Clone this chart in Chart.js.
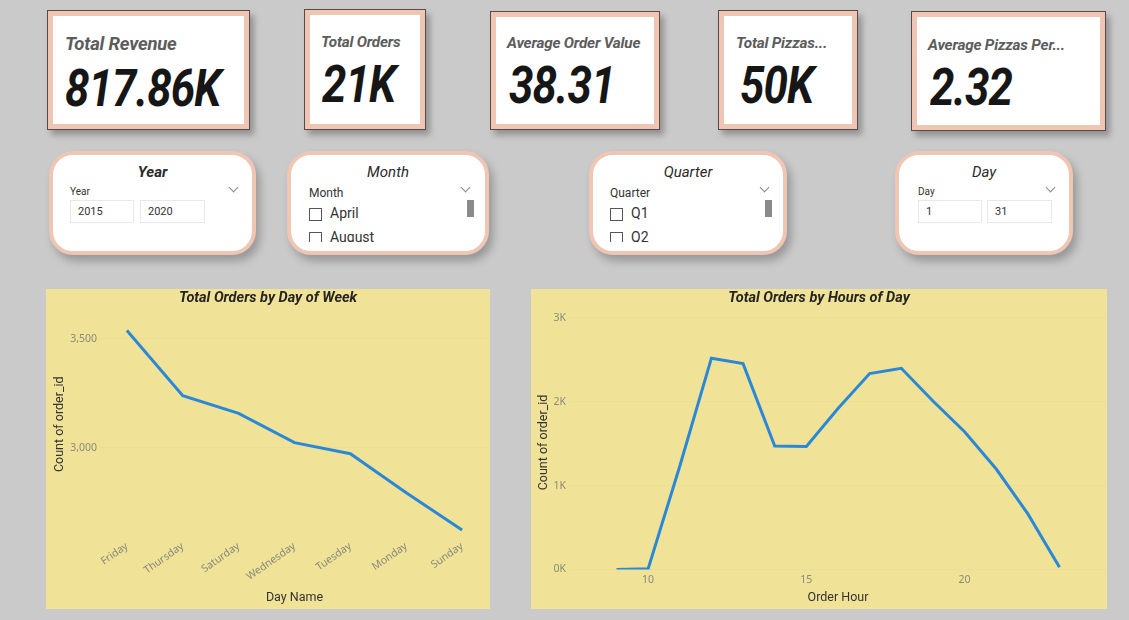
<!DOCTYPE html>
<html>
<head>
<meta charset="utf-8">
<script src="https://cdn.jsdelivr.net/npm/chart.js@4.4.1/dist/chart.umd.min.js"></script>
<style>
  html, body { margin:0; padding:0; }
  body { width:1129px; height:620px; background:#cacaca; position:relative; overflow:hidden; font-family:'Roboto','Noto Sans',sans-serif; }
  .card { position:absolute; box-sizing:border-box; background:#fff; border:1px solid #5b4a43; box-shadow: inset 0 0 0 5px #efc6b3, 4px 5px 6px rgba(0,0,0,0.28); }
  .card .t { position:absolute; font-style:italic; font-weight:700; color:#5c5c5c; white-space:nowrap; letter-spacing:-0.2px; }
  .card .v { position:absolute; font-style:italic; font-weight:700; color:#161616; font-size:51px; line-height:50px; white-space:nowrap; letter-spacing:-1px; transform:scaleX(0.86); transform-origin:left center; }
  .slicer { position:absolute; box-sizing:border-box; background:#fff; border:4px solid #efc6b3; border-radius:24px; box-shadow: 4px 6px 8px rgba(0,0,0,0.25); overflow:hidden; }
  .slicer .st { position:absolute; left:0; right:0; text-align:center; font-style:italic; color:#2a2a2a; font-size:15px; top:8px; }
  .slicer .lbl { position:absolute; color:#333; white-space:nowrap; }
  .chev { position:absolute; width:6px; height:6px; border-right:1px solid #888; border-bottom:1px solid #888; transform:rotate(45deg); }
  .inp { position:absolute; box-sizing:border-box; border:1px solid #e8e8e8; height:23px; font-size:11px; color:#333; padding-left:7px; line-height:21px; }
  .cb { position:absolute; box-sizing:border-box; width:13px; height:13px; border:1px solid #555; }
  .item { position:absolute; font-size:14px; color:#333; }
  .scroll { position:absolute; width:7px; height:17px; background:#8a8a8a; }
  .panel { position:absolute; background:#f0e398; }
</style>
</head>
<body>

<div class="card" style="left:47px;top:10px;width:203px;height:120px;">
  <div class="t" style="left:17px;top:22px;font-size:18.5px;">Total Revenue</div>
  <div class="v" style="left:17px;top:53px;">817.86K</div>
</div>
<div class="card" style="left:304px;top:9px;width:122px;height:121px;">
  <div class="t" style="left:16px;top:23px;font-size:15.3px;">Total Orders</div>
  <div class="v" style="left:17px;top:50px;">21K</div>
</div>
<div class="card" style="left:490px;top:11px;width:170px;height:119px;">
  <div class="t" style="left:16px;top:22px;font-size:15.3px;">Average Order Value</div>
  <div class="v" style="left:18px;top:49px;">38.31</div>
</div>
<div class="card" style="left:718px;top:10px;width:140px;height:120px;">
  <div class="t" style="left:17px;top:23px;font-size:15.3px;">Total Pizzas...</div>
  <div class="v" style="left:21px;top:50px;">50K</div>
</div>
<div class="card" style="left:911px;top:11px;width:195px;height:120px;">
  <div class="t" style="left:16px;top:24px;font-size:15.3px;">Average Pizzas Per...</div>
  <div class="v" style="left:18px;top:51px;">2.32</div>
</div>

<div class="slicer" style="left:49px;top:151px;width:207px;height:104px;">
  <div class="st" style="font-weight:700;left:0;right:0;">Year</div>
  <div class="lbl" style="left:17px;top:31px;font-size:10px;">Year</div>
  <div class="chev" style="left:177px;top:29px;"></div>
  <div class="inp" style="left:17px;top:45px;width:64px;">2015</div>
  <div class="inp" style="left:87px;top:45px;width:65px;">2020</div>
</div>
<div class="slicer" style="left:287px;top:151px;width:202px;height:104px;">
  <div class="st">Month</div>
  <div class="lbl" style="left:18px;top:31px;font-size:12px;">Month</div>
  <div class="chev" style="left:171px;top:29px;"></div>
  <div class="scroll" style="left:176px;top:45px;"></div>
  <div style="position:absolute;left:0;top:0;width:100%;height:87px;overflow:hidden;">
    <div class="cb" style="left:18px;top:53px;"></div><div class="item" style="left:39px;top:50px;">April</div>
    <div class="cb" style="left:18px;top:77px;"></div><div class="item" style="left:39px;top:74px;">August</div>
  </div>
</div>
<div class="slicer" style="left:589px;top:151px;width:198px;height:104px;">
  <div class="st">Quarter</div>
  <div class="lbl" style="left:17px;top:31px;font-size:12px;">Quarter</div>
  <div class="chev" style="left:168px;top:29px;"></div>
  <div class="scroll" style="left:172px;top:45px;"></div>
  <div style="position:absolute;left:0;top:0;width:100%;height:87px;overflow:hidden;">
    <div class="cb" style="left:17px;top:53px;"></div><div class="item" style="left:38px;top:50px;">Q1</div>
    <div class="cb" style="left:17px;top:77px;"></div><div class="item" style="left:38px;top:74px;">Q2</div>
  </div>
</div>
<div class="slicer" style="left:895px;top:151px;width:178px;height:104px;">
  <div class="st">Day</div>
  <div class="lbl" style="left:19px;top:31px;font-size:10px;">Day</div>
  <div class="chev" style="left:148px;top:29px;"></div>
  <div class="inp" style="left:19px;top:45px;width:64px;">1</div>
  <div class="inp" style="left:88px;top:45px;width:65px;">31</div>
</div>

<div class="panel" style="left:46px;top:289px;width:444px;height:320px;"><canvas id="c1" width="444" height="320"></canvas></div>
<div class="panel" style="left:531px;top:289px;width:576px;height:320px;"><canvas id="c2" width="576" height="320"></canvas></div>

<script>
// ---- data ----
const dayLabels = ['Friday','Thursday','Saturday','Wednesday','Tuesday','Monday','Sunday'];
const dayOrders = [3538, 3239, 3158, 3024, 2973, 2794, 2624];
const dayYTicks = [3000, 3500];

const orderHours = [9, 10, 11, 12, 13, 14, 15, 16, 17, 18, 19, 20, 21, 22, 23];
const hourOrders = [1, 8, 1231, 2520, 2455, 1472, 1468, 1920, 2336, 2399, 2009, 1642, 1198, 663, 28];
const hourXTicks = [10, 15, 20];
const hourYTicks = [0, 1000, 2000, 3000];

const lineColor = '#2b88d6';
const tickFont = { family: "'Noto Sans', sans-serif", size: 10.5 };
const axisTitleFont = { family: "'Roboto', sans-serif", size: 12.5 };
const titleFont = { family: "'Roboto', sans-serif", size: 14.5, weight: 'bold', style: 'italic' };

Chart.defaults.animation = false;
Chart.defaults.responsive = false;

new Chart(document.getElementById('c1'), {
  type: 'line',
  data: { labels: dayLabels, datasets: [{ data: dayOrders, borderColor: lineColor, borderWidth: 3, pointRadius: 0, tension: 0, fill: false }] },
  options: {
    layout: { padding: { left: 0, right: 0, top: 0, bottom: 0 } },
    plugins: {
      legend: { display: false }, tooltip: { enabled: false },
      title: { display: true, text: 'Total Orders by Day of Week', color: '#252423', font: titleFont, padding: { top: 1, bottom: 8 } }
    },
    scales: {
      x: {
        type: 'category', offset: true,
        grid: { display: false, drawTicks: false }, border: { display: false },
        ticks: { color: '#8a8a7a', font: tickFont, minRotation: 35, maxRotation: 35, padding: 7 },
        title: { display: true, text: 'Day Name', color: '#333', font: axisTitleFont, padding: { top: 0, bottom: 4 } },
        afterFit: s => { s.height = 76; }
      },
      y: {
        min: 2610, max: 3607,
        grid: { color: 'rgba(0,0,0,0.018)', drawTicks: false }, border: { display: false },
        afterBuildTicks: s => { s.ticks = dayYTicks.map(v => ({ value: v })); },
        ticks: { color: '#8a8a7a', font: tickFont, padding: 2, callback: v => Number(v).toLocaleString('en-US') },
        title: { display: true, text: 'Count of order_id', color: '#333', font: axisTitleFont, padding: { top: 6, bottom: 0 } },
        afterFit: s => { s.width = 53; }
      }
    }
  }
});

new Chart(document.getElementById('c2'), {
  type: 'line',
  data: { datasets: [{ data: orderHours.map((h, i) => ({ x: h, y: hourOrders[i] })), borderColor: lineColor, borderWidth: 3, pointRadius: 0, tension: 0, fill: false }] },
  options: {
    layout: { padding: { left: 0, right: 0, top: 0, bottom: 0 } },
    plugins: {
      legend: { display: false }, tooltip: { enabled: false },
      title: { display: true, text: 'Total Orders by Hours of Day', color: '#252423', font: titleFont, padding: { top: 1, bottom: 8 } }
    },
    scales: {
      x: {
        type: 'linear', min: 7.5, max: 24.5,
        grid: { display: false, drawTicks: false }, border: { display: false },
        afterBuildTicks: s => { s.ticks = hourXTicks.map(v => ({ value: v })); },
        ticks: { color: '#8a8a7a', font: tickFont, padding: 4 },
        title: { display: true, text: 'Order Hour', color: '#333', font: axisTitleFont, padding: { top: 0, bottom: 4 } },
        afterFit: s => { s.height = 39.5; }
      },
      y: {
        min: 0, max: 3030,
        grid: { color: 'rgba(0,0,0,0.018)', drawTicks: false }, border: { display: false },
        afterBuildTicks: s => { s.ticks = hourYTicks.map(v => ({ value: v })); },
        ticks: { color: '#8a8a7a', font: tickFont, padding: 3, callback: v => (v / 1000) + 'K' },
        title: { display: true, text: 'Count of order_id', color: '#333', font: axisTitleFont, padding: { top: 5, bottom: 0 } },
        afterFit: s => { s.width = 38; }
      }
    }
  }
});
</script>
</body>
</html>
